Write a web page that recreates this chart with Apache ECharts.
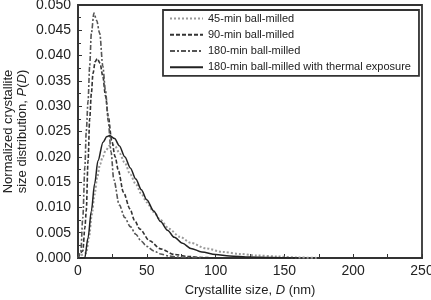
<!DOCTYPE html>
<html>
<head>
<meta charset="utf-8">
<script src="https://cdn.jsdelivr.net/npm/echarts@6/dist/echarts.min.js"></script>
<style>
  html, body { margin: 0; padding: 0; background: #fff; }
  #chart { width: 431px; height: 300px; }
</style>
</head>
<body>
<div id="chart"></div>
<script>
// Data (D in nm, P(D))
var d45 = [0, 6, 8, 10, 12, 14, 16, 18, 20, 23, 25, 27, 30, 34, 38, 42, 46, 50, 55, 60, 66, 74, 82, 93, 105, 118, 130, 145, 160, 175];
var p45 = [0, 0.001, 0.004, 0.0085, 0.0125, 0.016, 0.0185, 0.0200, 0.0212, 0.0222, 0.0224, 0.0221, 0.0208, 0.0188, 0.0165, 0.0146, 0.0127, 0.0110, 0.0091, 0.0075, 0.0058, 0.0042, 0.0030, 0.0019, 0.0012, 0.0008, 0.0005, 0.0003, 0.0001, 0];

var d90 = [0, 3.5, 5, 6, 7.3, 8.5, 9.7, 10.9, 12.5, 14, 16, 18, 20, 22, 24.5, 27, 29.3, 33, 37.8, 41, 45, 52, 60, 70, 80, 90, 100];
var p90 = [0, 0.0014, 0.006, 0.0093, 0.0192, 0.0275, 0.0325, 0.0365, 0.0388, 0.0394, 0.0385, 0.036, 0.032, 0.028, 0.0232, 0.0200, 0.0173, 0.0130, 0.0097, 0.0075, 0.0057, 0.0034, 0.0018, 0.0007, 0.0003, 0.0001, 0];

var d180 = [0, 2, 3.5, 5, 6, 7.3, 8.5, 9.7, 11.6, 13.5, 15.8, 18, 20, 22, 24, 26, 30, 34, 38, 42, 46, 50, 55, 60, 66, 72, 80, 90];
var p180 = [0, 0.0012, 0.008, 0.018, 0.025, 0.031, 0.038, 0.0444, 0.0484, 0.047, 0.0444, 0.038, 0.033, 0.027, 0.021, 0.0155, 0.0105, 0.0080, 0.0062, 0.0047, 0.0033, 0.0023, 0.0014, 0.0008, 0.0004, 0.0002, 0.0001, 0];

var dTh = [0, 4.9, 7.3, 9.7, 12.1, 14.5, 18.2, 21, 23, 26.6, 30, 34, 38, 42, 46, 50, 55, 60, 65, 70, 76, 82, 90, 100, 110, 125, 140, 160];
var pTh = [0, 0, 0.004, 0.0093, 0.0147, 0.0192, 0.0229, 0.0240, 0.0242, 0.0236, 0.0222, 0.0200, 0.0178, 0.0156, 0.0135, 0.0115, 0.0093, 0.0072, 0.0055, 0.0041, 0.0029, 0.0019, 0.0012, 0.0007, 0.0004, 0.0002, 0.0001, 0];

var seriesNames = [
  "45-min ball-milled",
  "90-min ball-milled",
  "180-min ball-milled",
  "180-min ball-milled with thermal exposure"
];

function pairs(xs, ys) {
  return xs.map(function (x, i) { return [x, ys[i]]; });
}

var chart = echarts.init(document.getElementById("chart"));
var fontFam = "Liberation Sans, Arial, sans-serif";

function lineSeries(name, data, color, type, width) {
  return {
    type: "line",
    name: name,
    data: data,
    smooth: 0.3,
    smoothMonotone: "x",
    symbol: "none",
    animation: false,
    lineStyle: { color: color, type: type, width: width },
    itemStyle: { color: color }
  };
}

var option = {
  backgroundColor: "#fff",
  grid: {
    left: 78, right: 9, top: 5, bottom: 42,
    outerBoundsMode: "none",
    containLabel: false,
    show: true,
    borderColor: "#333",
    borderWidth: 1.8
  },
  legend: {
    orient: "vertical",
    left: 163,
    top: 10,
    width: 255,
    padding: [3, 8, 3, 6],
    itemGap: 5,
    itemWidth: 33,
    itemHeight: 14,
    borderColor: "#333",
    borderWidth: 1.8,
    backgroundColor: "#fff",
    itemStyle: { opacity: 0 },
    textStyle: { fontFamily: fontFam, fontSize: 11, color: "#222" },
    data: seriesNames
  },
  xAxis: {
    type: "value",
    min: 0, max: 250, interval: 50,
    name: "Crystallite size, {i|D} (nm)",
    nameLocation: "middle",
    nameGap: 26,
    nameMoveOverlap: false,
    nameTextStyle: {
      fontFamily: fontFam, fontSize: 13, color: "#222",
      rich: { i: { fontFamily: fontFam, fontSize: 13, fontStyle: "italic", color: "#222" } }
    },
    axisLine: { show: true, lineStyle: { color: "#333", width: 1.8 } },
    axisTick: { inside: true, length: 4, lineStyle: { color: "#333" } },
    minorTick: { show: true, splitNumber: 2, length: 4, lineStyle: { color: "#333" } },
    axisLabel: { fontFamily: fontFam, fontSize: 14, color: "#222", margin: 6 },
    splitLine: { show: false }
  },
  yAxis: {
    type: "value",
    min: 0, max: 0.05, interval: 0.005,
    name: "Normalized crystallite\nsize distribution, {i|P}({i|D})",
    nameLocation: "middle",
    nameGap: 49,
    nameMoveOverlap: false,
    nameTextStyle: {
      fontFamily: fontFam, fontSize: 13, color: "#222", lineHeight: 14,
      rich: { i: { fontFamily: fontFam, fontSize: 13, fontStyle: "italic", color: "#222", lineHeight: 14 } }
    },
    axisLine: { show: true, lineStyle: { color: "#333", width: 1.8 } },
    axisTick: { inside: true, length: 4, lineStyle: { color: "#333" } },
    minorTick: { show: true, splitNumber: 2, length: 3, lineStyle: { color: "#333" } },
    axisLabel: {
      fontFamily: fontFam, fontSize: 14, color: "#222", margin: 7,
      formatter: function (v) { return v.toFixed(3); }
    },
    splitLine: { show: false }
  },
  series: [
    lineSeries(seriesNames[0], pairs(d45, p45), "#9a9a9a", [2, 2], 2),
    lineSeries(seriesNames[1], pairs(d90, p90), "#333", [4, 2], 1.6),
    lineSeries(seriesNames[2], pairs(d180, p180), "#555", [5, 2, 2, 2], 1.6),
    lineSeries(seriesNames[3], pairs(dTh, pTh), "#222", "solid", 1.5)
  ]
};

chart.setOption(option);
</script>
</body>
</html>
